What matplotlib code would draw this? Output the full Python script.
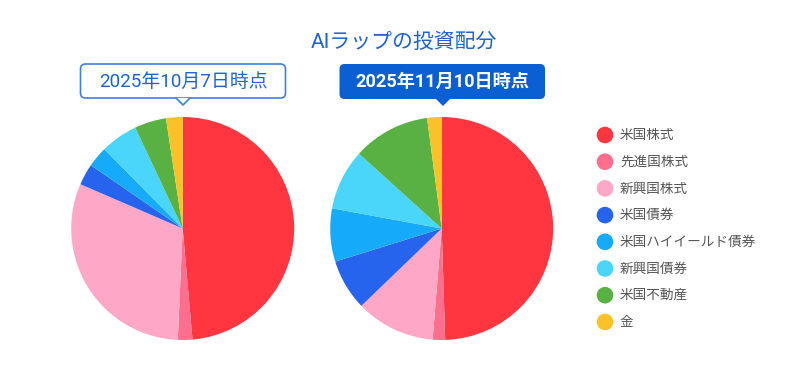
import matplotlib
matplotlib.use("Agg")
import matplotlib.pyplot as plt
from matplotlib.patches import FancyBboxPatch, Polygon, Circle

plt.rcParams['font.family'] = ['Roboto', 'Noto Sans CJK JP', 'DejaVu Sans']

categories = ["米国株式", "先進国株式", "新興国株式", "米国債券",
              "米国ハイイールド債券", "新興国債券", "米国不動産", "金"]
values_oct = [48.6, 2.1, 30.8, 3.1, 3.0, 5.4, 4.6, 2.4]
values_nov = [49.5, 1.8, 11.5, 7.4, 7.7, 8.8, 11.2, 2.1]
dates = ["2025年10月7日時点", "2025年11月10日時点"]
title = "AIラップの投資配分"
colors = ["#FF363F", "#FF6E8C", "#FFA7C6", "#2764EE",
          "#16ABFA", "#4AD6FB", "#58B142", "#FBC228"]

W, H = 787, 371
fig = plt.figure(figsize=(W / 100, H / 100), dpi=100)

def pie_axes(cx, cy, r):
    ax = fig.add_axes([(cx - r) / W, 1 - (cy + r) / H, 2 * r / W, 2 * r / H])
    return ax

for vals, cx in [(values_oct, 182.7), (values_nov, 441.7)]:
    ax = pie_axes(cx, 228.5, 111.5)
    ax.pie(vals, colors=colors, startangle=90, counterclock=False,
           radius=1.0, wedgeprops=dict(linewidth=0))
    ax.set_xlim(-1, 1)
    ax.set_ylim(-1, 1)
    ax.set_aspect('auto')
    ax.axis('off')

# overlay in pixel coords
ov = fig.add_axes([0, 0, 1, 1])
ov.set_xlim(0, W)
ov.set_ylim(H, 0)
ov.axis('off')
ov.patch.set_alpha(0)

blue = "#1F63D1"
dark = "#0A5FD3"
ov.text(404, 42, title, ha='center', va='center', fontsize=15, color=blue)

# left callout (outlined)
box = FancyBboxPatch((80.5, 64), 205, 34, boxstyle="round,pad=0,rounding_size=5",
                     fc="white", ec="#3F80E0", lw=1.2)
ov.add_patch(box)
ov.add_patch(Polygon([[176, 98], [190, 98], [183, 105]], closed=True,
                     fc="white", ec="none", zorder=3))
ov.plot([176, 183, 190], [98, 105, 98], color="#3F80E0", lw=1.2, zorder=4)
ov.text(183, 81.5, dates[0], ha='center', va='center', fontsize=13.6, color=blue, zorder=5)

# right callout (filled)
box2 = FancyBboxPatch((339.5, 64), 205.5, 35, boxstyle="round,pad=0,rounding_size=5",
                      fc=dark, ec="none")
ov.add_patch(box2)
ov.add_patch(Polygon([[435, 98], [451, 98], [443, 106]], closed=True,
                     fc=dark, ec="none"))
ov.text(442.5, 81.5, dates[1], ha='center', va='center', fontsize=13.1,
        color="white", fontweight='bold')

# legend
for i, (lab, c) in enumerate(zip(categories, colors)):
    y = 135 + i * 26.7
    ov.add_patch(Circle((605, y), 8.3, fc=c, ec="none"))
    ov.text(620, y, lab, ha='left', va='center', fontsize=9.8, color="#555555")

fig.savefig("out.png", dpi=100, facecolor="white")
